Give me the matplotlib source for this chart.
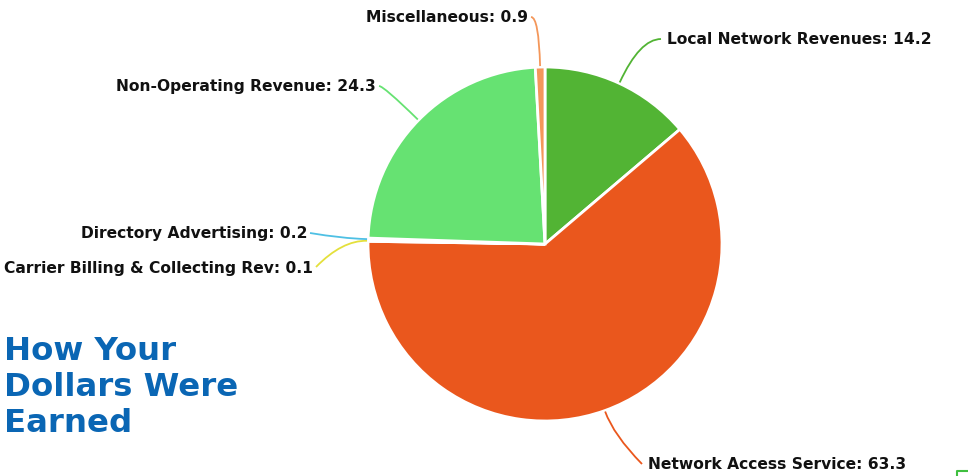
import numpy as np
import matplotlib
matplotlib.use("Agg")
import matplotlib.pyplot as plt
from matplotlib.path import Path
from matplotlib.patches import PathPatch

# ---- data ----
categories = ["Local Network Revenues", "Network Access Service",
              "Carrier Billing & Collecting Rev", "Directory Advertising",
              "Non-Operating Revenue", "Miscellaneous"]
values = [14.2, 63.3, 0.1, 0.2, 24.3, 0.9]
title_text = "How Your\nDollars Were\nEarned"

# ---- styles / layout ----
colors = ["#52b434", "#ea571d", "#e4e03c", "#4ec0e4", "#66e272", "#f4975a"]
# label anchor (x, y in figure pixels, y up), alignment
label_pos = [(667, 437, "left"), (648, 12, "left"), (313, 209, "right"),
             (307, 243, "right"), (376, 390, "right"), (528, 459, "right")]

W, H = 968, 477
fig = plt.figure(figsize=(W / 100, H / 100), dpi=100)
ax = fig.add_axes([0, 0, 1, 1])
ax.set_xlim(0, W)
ax.set_ylim(0, H)
ax.set_aspect("equal")
ax.axis("off")

cx, cy, R = 545, 232, 177
wedges, _ = ax.pie(values, colors=colors, startangle=90, counterclock=False,
                   center=(cx, cy), radius=R, normalize=True,
                   wedgeprops=dict(edgecolor="white", linewidth=2))
ax.set_xlim(0, W)
ax.set_ylim(0, H)

for w, cat, val, col, (tx, ty, ha) in zip(wedges, categories, values, colors, label_pos):
    mid = np.deg2rad((w.theta1 + w.theta2) / 2)
    d = np.array([np.cos(mid), np.sin(mid)])
    p0 = np.array([cx, cy]) + d * (R + 1)
    ex = tx + (-6 if ha == "left" else 3)
    end = np.array([ex, ty])
    if abs(d[1]) > 1e-3:
        t = (end[1] - p0[1]) / d[1]
    else:
        t = 1e9
    if t < 0 or t > 50:
        t = 25
    ctrl = p0 + d * t
    path = Path([tuple(p0), tuple(ctrl), tuple(end)],
                [Path.MOVETO, Path.CURVE3, Path.CURVE3])
    ax.add_patch(PathPatch(path, facecolor="none", edgecolor=col, lw=1.3))
    ax.text(tx, ty, f"{cat}: {val}", ha=ha, va="center", fontsize=11.2,
            fontweight="bold", family=["DejaVu Sans"], color="#111111")

ax.text(4, 141, title_text, ha="left", va="top", fontsize=23.3,
        fontweight="bold", family=["DejaVu Sans"], color="#0a66b4",
        linespacing=1.21)

# small green corner mark at bottom right
ax.plot([957, 957, 968], [0, 5, 5], color="#3fbf3f", lw=1.5)

fig.savefig("out.png", dpi=100)
